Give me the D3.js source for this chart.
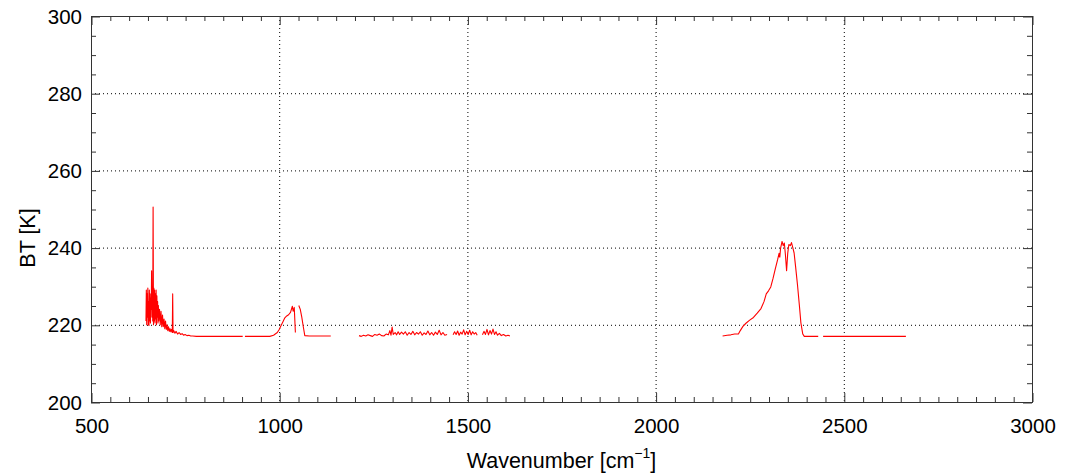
<!DOCTYPE html>
<html>
<head>
<meta charset="utf-8">
<script src="https://cdn.jsdelivr.net/npm/d3@7"></script>
<style>
  html, body { margin: 0; padding: 0; background: #fff; }
  svg { display: block; }
  text { font-family: "Liberation Sans", Arial, sans-serif; fill: #000; }
</style>
</head>
<body>
<svg id="chart" width="1067" height="474"></svg>
<script>
// ---- data; null marks a gap in the spectrum ----
const wavenumber = [
  646,647,648,649,650,651,652,653,654,655,656,657,658,659,660,661,662,663,664,665,666,667,668,669,670,
  671,672,673,674,675,676,677,678,679,680,682,684,686,688,690,692,694,696,698,700,702,704,706,708,710,
  712,714,716,717,718,720,723,726,730,734,738,742,746,750,755,760,765,770,780,790,820,860,903,
  905,
  909,940,975,985,995,1000,1005,1010,1015,1020,1025,1030,1035,1037,1040,1043,
  1048,
  1052,1056,1060,1064,1068,1080,1100,1137,
  1170,
  1212,1218,1224,1230,1236,1242,1248,1254,1260,1266,1272,1278,1284,1290,1294,1297,1300,1303,1308,1312,
  1316,1320,1325,1330,1335,1340,1345,1350,1355,1360,1365,1370,1375,1380,1385,1390,1395,1400,1405,1410,
  1415,1420,1425,1430,1435,1440,1446,
  1454,
  1462,1466,1470,1474,1478,1482,1486,1490,1494,1498,1502,1506,1510,1514,1518,1522,1526,
  1533,
  1540,1544,1548,1552,1556,1560,1564,1568,1572,1576,1580,1585,1590,1596,1602,1608,1613,
  1900,
  2178,2190,2200,2210,2220,2225,2232,2240,2250,2260,2270,2280,2288,2294,2300,2306,2312,2318,2324,2328,
  2330,2332,2336,2339,2342,2345,2348,2351,2354,2358,2361,2364,2368,2372,2377,2382,2386,2391,2395,2410,2432,
  2438,
  2445,2550,2665
];
const brightnessTemp = [
  221,229,220,228,222,229.5,220,226,219.8,229,221,228,220.5,227,224,234,222,229,221,250.5,220,229.5,221,229,220.5,
  228,221.5,229,220,227.5,222,226,220.5,225,221,224,220,223.5,219.5,222.5,219.5,221.5,219,221,218.8,220,218.5,219.5,218.3,219,
  218.2,218.8,218,228,218,218.5,217.8,218.3,217.6,218,217.5,217.7,217.3,217.5,217.2,217.3,217.1,217.1,217.0,217.0,217.0,217.0,217.0,
  null,
  217.0,217.0,217.0,217.3,218.0,218.8,219.8,220.8,221.8,222.3,222.6,223.2,224.8,223.5,224.5,218.0,
  null,
  225.0,224.0,222.0,219.5,217.2,217.1,217.1,217.1,
  null,
  217.2,217.0,217.3,217.1,217.4,217.2,217.0,217.5,217.3,217.6,217.2,217.1,217.6,217.4,218.5,217.3,219.4,217.5,218.0,217.4,
  218.2,217.5,218.1,217.6,218.2,217.3,218.0,217.5,218.3,217.4,218.0,217.6,218.2,217.3,217.9,217.5,218.4,217.4,218.0,217.3,
  218.1,217.5,218.6,217.4,218.0,217.3,217.5,
  null,
  217.4,218.2,217.5,218.4,217.3,218.1,217.6,218.7,217.4,218.3,217.5,218.6,217.4,218.2,217.6,218.0,217.3,
  null,
  217.4,218.3,217.5,218.8,217.4,218.5,217.6,218.9,217.5,218.2,217.3,217.8,217.2,217.5,217.1,217.3,217.1,
  null,
  217.1,217.3,217.4,217.6,217.6,218.5,219.6,220.4,221.2,221.9,223.0,224.2,226.0,228.0,228.8,229.8,232.0,234.5,236.8,238.5,
  237.5,239.8,241.6,240.5,241.2,238.0,234.0,238.5,240.8,240.5,241.3,240.2,238.6,235.0,230.3,225.0,220.5,217.6,217.0,217.0,217.0,
  null,
  217.0,217.0,217.0
];
const xTicks = [500, 1000, 1500, 2000, 2500, 3000];
const yTicks = [200, 220, 240, 260, 280, 300];
const xLabel = "Wavenumber [cm";
const xLabelSup = "−1";
const yLabel = "BT [K]";

// ---- layout ----
const svg = d3.select("#chart");
const pL = 91, pR = 1032, pT = 16, pB = 402;
const x = d3.scaleLinear().domain([500, 3000]).range([pL, pR]);
const y = d3.scaleLinear().domain([200, 300]).range([pB, pT]);

const xMinor = d3.range(500, 3001, 50).filter(v => v % 500 !== 0);
const yMinor = d3.range(200, 301, 5).filter(v => v % 20 !== 0);

// grid (dotted)
const grid = svg.append("g");
grid.selectAll("line.gx").data(xTicks.slice(1, -1)).join("line")
  .attr("x1", d => x(d) + 0.5).attr("x2", d => x(d) + 0.5)
  .attr("y1", pT).attr("y2", pB)
  .attr("stroke", "#000").attr("stroke-width", 1).attr("stroke-dasharray", "1,3");
grid.selectAll("line.gy").data(yTicks.slice(1, -1)).join("line")
  .attr("y1", d => y(d) + 0.5).attr("y2", d => y(d) + 0.5)
  .attr("x1", pL).attr("x2", pR)
  .attr("stroke", "#000").attr("stroke-width", 1).attr("stroke-dasharray", "1,3");

// axes with inward ticks on all four sides
function axisGroup(axis, tf) {
  const g = svg.append("g").attr("transform", tf).call(axis);
  g.select(".domain").remove();
  g.selectAll("line").attr("stroke", "#333");
  return g;
}
const tickFont = 20.5;
const gb = axisGroup(d3.axisBottom(x).tickValues(xTicks).tickSize(-9).tickPadding(16).tickFormat(d3.format("d")), `translate(0.5,${pB})`);
gb.selectAll("text").attr("font-size", tickFont).attr("font-family", "Liberation Sans, Arial, sans-serif");
axisGroup(d3.axisBottom(x).tickValues(xMinor).tickSize(-5).tickFormat(""), `translate(0.5,${pB})`);
axisGroup(d3.axisTop(x).tickValues(xTicks).tickSize(-9).tickFormat(""), `translate(0.5,${pT})`);
axisGroup(d3.axisTop(x).tickValues(xMinor).tickSize(-5).tickFormat(""), `translate(0.5,${pT})`);
const gl = axisGroup(d3.axisLeft(y).tickValues(yTicks).tickSize(-9).tickPadding(9).tickFormat(d3.format("d")), `translate(${pL},0.5)`);
gl.selectAll("text").attr("font-size", tickFont).attr("font-family", "Liberation Sans, Arial, sans-serif");
axisGroup(d3.axisLeft(y).tickValues(yMinor).tickSize(-5).tickFormat(""), `translate(${pL},0.5)`);
axisGroup(d3.axisRight(y).tickValues(yTicks).tickSize(-9).tickFormat(""), `translate(${pR},0.5)`);
axisGroup(d3.axisRight(y).tickValues(yMinor).tickSize(-5).tickFormat(""), `translate(${pR},0.5)`);

// frame
svg.append("rect").attr("x", pL + 0.5).attr("y", pT + 0.5)
  .attr("width", pR - pL).attr("height", pB - pT)
  .attr("fill", "none").attr("stroke", "#333").attr("stroke-width", 1);

// data line
const pts = wavenumber.map((w, i) => [w, brightnessTemp[i]]);
const line = d3.line().defined(d => d[1] !== null).x(d => x(d[0])).y(d => y(d[1]));
svg.append("path").datum(pts).attr("d", line)
  .attr("fill", "none").attr("stroke", "#ff0000").attr("stroke-width", 1.1)
  .attr("stroke-linejoin", "round");

// axis titles
const xt = svg.append("text").attr("x", (pL + pR) / 2).attr("y", 468)
  .attr("text-anchor", "middle").attr("font-size", 21.5);
xt.append("tspan").text(xLabel);
xt.append("tspan").attr("font-size", 14).attr("dy", -10).text(xLabelSup);
xt.append("tspan").attr("dy", 10).text("]");

svg.append("text").attr("transform", `translate(35,238) rotate(-90)`)
  .attr("text-anchor", "middle").attr("font-size", 21.5).text(yLabel);
</script>
</body>
</html>
